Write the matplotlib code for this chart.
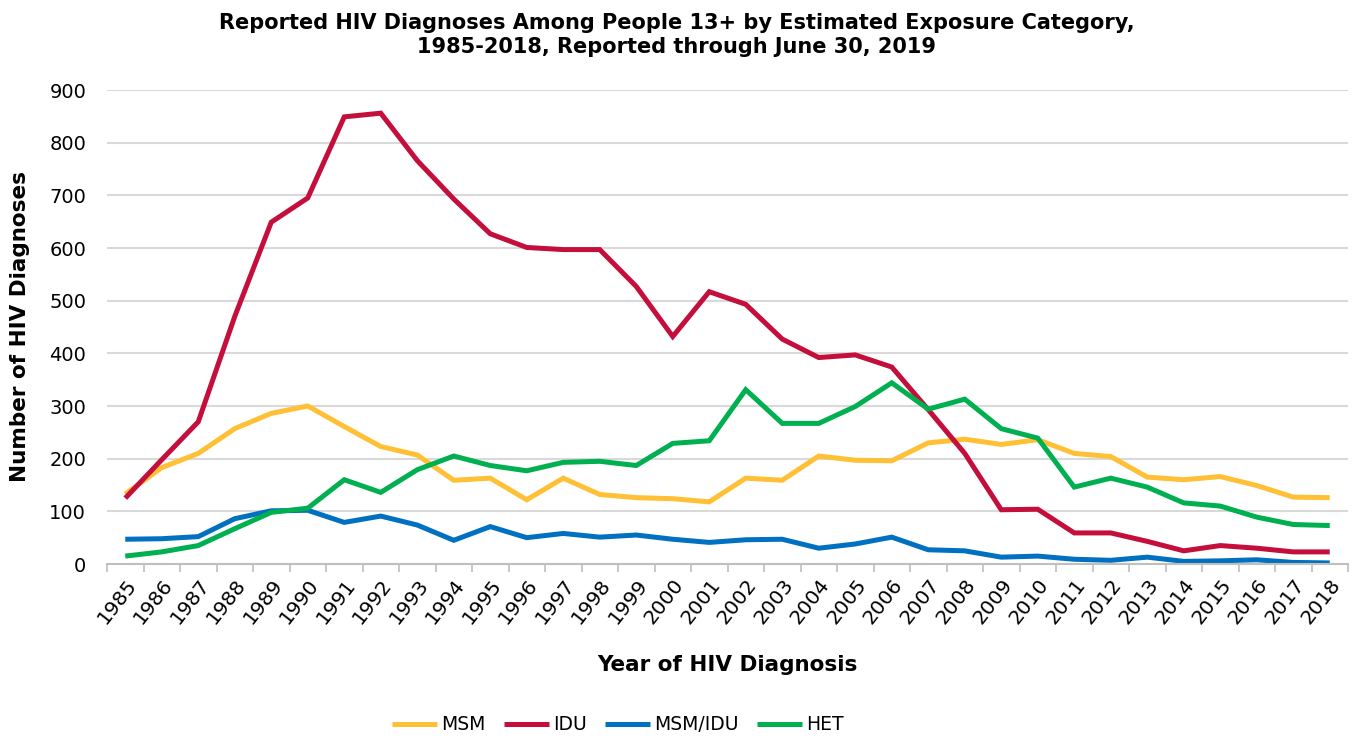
import matplotlib
matplotlib.use("Agg")
import matplotlib.pyplot as plt
import numpy as np

years = list(range(1985, 2019))
msm = [133, 183, 210, 257, 286, 300, 261, 223, 207, 159, 163, 122, 163, 132, 126, 124, 118,
       163, 159, 205, 197, 196, 230, 237, 227, 236, 210, 204, 165, 160, 166, 149, 127, 126]
idu = [125, 198, 270, 470, 649, 695, 849, 856, 766, 693, 627, 601, 597, 597, 527, 432, 517,
       493, 427, 392, 397, 374, 293, 210, 103, 104, 59, 59, 43, 25, 35, 30, 23, 23]
msm_idu = [47, 48, 52, 86, 101, 102, 79, 91, 74, 45, 71, 50, 58, 51, 55, 47, 41,
           46, 47, 30, 38, 51, 27, 25, 13, 15, 9, 7, 13, 5, 6, 8, 3, 2]
het = [15, 23, 35, 67, 98, 106, 160, 136, 179, 205, 187, 177, 193, 195, 187, 229, 234,
       331, 267, 267, 299, 344, 294, 313, 257, 239, 146, 163, 146, 116, 110, 89, 75, 73]

series = [("MSM", msm, "#FFC035"), ("IDU", idu, "#C40E3C"),
          ("MSM/IDU", msm_idu, "#0070C0"), ("HET", het, "#00B050")]

plt.rcParams['font.family'] = ['DejaVu Sans']
fig = plt.figure(figsize=(13.53, 7.38), dpi=100)
ax = fig.add_axes([107 / 1353, 1 - 564 / 738, 1241 / 1353, 474 / 738])

x = np.arange(len(years))
for name, vals, col in series:
    ax.plot(x, vals, color=col, lw=3.6, label=name, solid_joinstyle='miter', solid_capstyle='butt')

ax.set_xlim(-0.5, len(years) - 0.5)
ax.set_ylim(0, 900)
ax.set_yticks(range(0, 901, 100))
ax.yaxis.grid(True, color='#d9d9d9', lw=1.5)
ax.set_axisbelow(True)
ax.set_xticks(x)
ax.set_xticklabels([str(y) for y in years], rotation=52, ha='right', rotation_mode='anchor', fontsize=14.5)
ax.set_xticks(np.arange(-0.5, len(years), 1), minor=True)
ax.tick_params(axis='x', which='major', length=0, pad=8)
ax.tick_params(axis='x', which='minor', length=6, color='#bfbfbf', width=1.2)
ax.tick_params(axis='y', length=0, labelsize=14, pad=15)
for s in ['top', 'right', 'left']:
    ax.spines[s].set_visible(False)
ax.spines['bottom'].set_color('#bfbfbf')
ax.spines['bottom'].set_linewidth(1.5)

ax.set_xlabel("Year of HIV Diagnosis", fontsize=15.5, fontweight='bold', labelpad=20)
ax.set_ylabel("Number of HIV Diagnoses", fontsize=15.5, fontweight='bold', labelpad=14)
fig.suptitle("Reported HIV Diagnoses Among People 13+ by Estimated Exposure Category,\n1985-2018, Reported through June 30, 2019",
             fontsize=15, fontweight='bold', y=0.982, linespacing=1.25)

fig.legend(loc='center', bbox_to_anchor=(618 / 1353, 1 - 725 / 738), ncol=4, frameon=False, fontsize=13.5,
           handlelength=2.4, handletextpad=0.2, columnspacing=1.0)

fig.savefig("out.png", dpi=100)
